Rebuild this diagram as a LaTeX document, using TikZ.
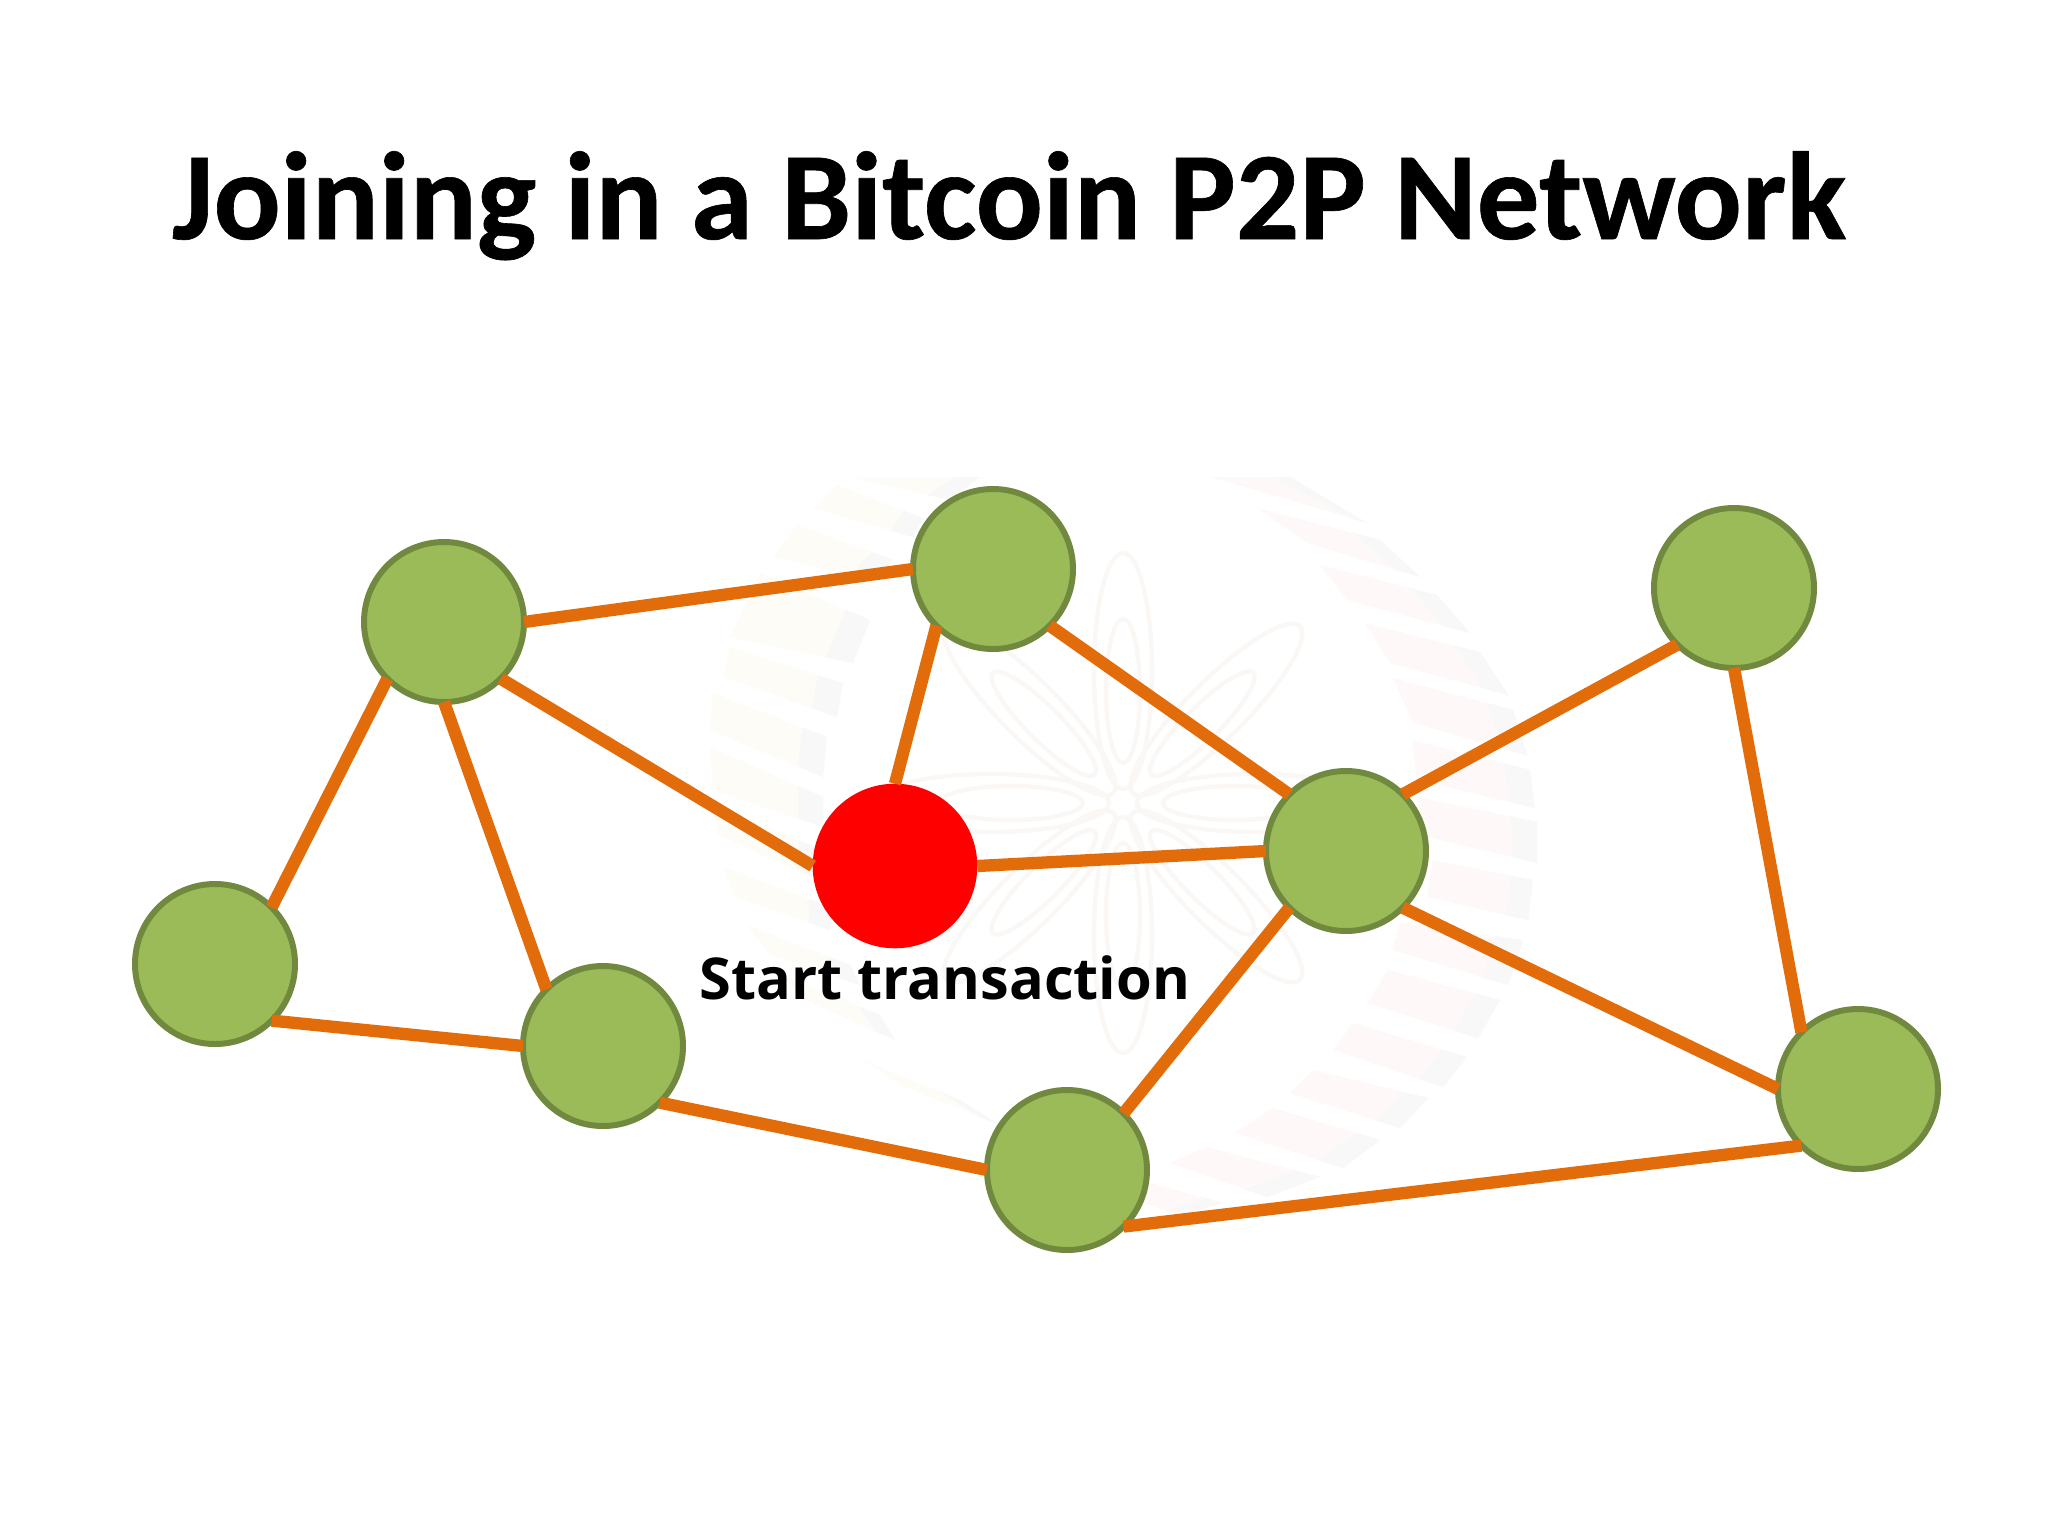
\documentclass[tikz,border=0pt]{standalone}
\usepackage{fontspec}
\setmainfont{Carlito}
\newfontfamily\titlefont{Carlito}[UprightFont=*,BoldFont=*-Bold,BoldFeatures={FakeBold=0.5}]
\newfontfamily\labelfont{Open Sans}
\usetikzlibrary{calc}
\definecolor{nodegreen}{HTML}{9BBB59}
\definecolor{nodeedge}{HTML}{71893F}
\definecolor{linkorange}{HTML}{E36C0A}
\definecolor{wmpink}{HTML}{FEF9F8}
\definecolor{wmcream}{HTML}{FEFCF7}
\definecolor{wmgrey}{HTML}{F8F8F8}
\definecolor{wmpetal}{HTML}{FAF7F5}
\tikzset{
  peer/.style={circle,draw=nodeedge,fill=nodegreen,line width=1.7pt,minimum size=45.5pt,inner sep=0pt,outer sep=0pt},
  origin/.style={circle,fill=red,draw=none,minimum size=46.8pt,inner sep=0pt,outer sep=0pt},
  link/.style={draw=linkorange,line width=3.5pt},
  petal/.style={draw=wmpetal,line width=1.2pt}
}
% inner-top, outer-top, outer-bottom, inner-bottom
\newcommand{\wmright}[4]{%
  \fill[wmpink] (#1)--(#2)--(#3)--(#4)--cycle;
  \fill[wmgrey] ($(#1)!.78!(#2)$)--(#2)--(#3)--($(#4)!.78!(#3)$)--cycle;}
\newcommand{\wmleft}[4]{%
  \fill[wmcream] (#1)--(#2)--(#3)--(#4)--cycle;
  \fill[wmgrey] ($(#1)!.78!(#2)$)--(#2)--(#3)--($(#4)!.78!(#3)$)--cycle;}
\begin{document}
\begin{tikzpicture}[x=0.01cm,y=-0.01cm]
\useasboundingbox (0,0) rectangle (2048,1536);
\fill[white] (0,0) rectangle (2048,1536);
% faint watermark
\wmright{1210,477}{1290,477}{1367,523}{1300,503}
\wmright{1257,508}{1380,540}{1420,577}{1307,543}
\wmright{1320,565}{1437,595}{1470,633}{1347,600}
\wmright{1365,623}{1480,652}{1508,695}{1390,663}
\wmright{1393,678}{1513,710}{1527,755}{1413,723}
\wmright{1412,740}{1530,770}{1535,808}{1417,780}
\wmright{1417,797}{1537,822}{1537,863}{1427,837}
\wmright{1433,860}{1533,880}{1528,920}{1427,897}
\wmright{1400,923}{1523,940}{1508,985}{1393,950}
\wmright{1388,970}{1500,1000}{1478,1038}{1367,1003}
\wmright{1353,1023}{1467,1057}{1443,1087}{1333,1050}
\wmright{1313,1070}{1428,1098}{1400,1128}{1290,1093}
\wmright{1273,1108}{1380,1140}{1343,1168}{1235,1133}
\wmright{1207,1147}{1320,1177}{1267,1197}{1170,1163}
\wmright{1150,1183}{1223,1203}{1180,1215}{1120,1195}
\wmleft{870,477}{980,477}{950,500}{850,477}
\wmleft{837,485}{923,518}{913,537}{813,508}
\wmleft{797,525}{893,560}{873,580}{773,557}
\wmleft{760,573}{870,620}{853,663}{730,637}
\wmleft{730,647}{843,683}{837,717}{723,677}
\wmleft{713,693}{827,737}{823,777}{710,730}
\wmleft{710,747}{823,797}{823,827}{713,790}
\wmleft{713,805}{823,850}{820,880}{718,835}
\wmleft{723,867}{833,908}{830,930}{735,897}
\wmleft{747,925}{850,965}{860,985}{770,955}
\wmleft{782,975}{880,1015}{895,1040}{805,1000}
\wmleft{863,1060}{960,1100}{1000,1125}{900,1085}
\foreach \a in {0,45,...,315}{
  \begin{scope}[shift={(1123,803)},rotate=\a]
    \draw[petal] (132,0) ellipse [x radius=118,y radius=29];
    \draw[petal] (112,0) ellipse [x radius=72,y radius=17];
  \end{scope}
}
\node (title) [anchor=base,font=\titlefont\fontsize{35.6}{38}\selectfont\bfseries] at (1009,239) {Joining in a Bitcoin P2P Network};
\node (n1) [peer] at (444,622) {};
\node (n2) [peer] at (993,569) {};
\node (n3) [peer] at (1734,588) {};
\node (n4) [peer] at (215,964) {};
\node (n5) [peer] at (603,1046) {};
\node (start) [origin] at (895,866) {};
\node (n6) [peer] at (1346,851) {};
\node (n7) [peer] at (1067,1170) {};
\node (n8) [peer] at (1858,1089) {};
\node (lab) [anchor=base,font=\labelfont\bfseries\fontsize{16.4}{18}\selectfont] at (945,999) {Start transaction};
\draw[link] (n1.east) -- (n2.west);
\draw[link] (n1.south east) -- (start.west);
\draw[link] (n1.south west) -- (n4.north east);
\draw[link] (n1.south) -- (n5.north west);
\draw[link] (n4.south east) -- (n5.west);
\draw[link] (n5.south east) -- (n7.west);
\draw[link] (n2.south west) -- (start.north);
\draw[link] (n2.south east) -- (n6.north west);
\draw[link] (start.east) -- (n6.west);
\draw[link] (n6.north east) -- (n3.south west);
\draw[link] (n6.south west) -- (n7.north east);
\draw[link] (n6.south east) -- (n8.west);
\draw[link] (n3.south) -- (n8.north west);
\draw[link] (n7.south east) -- (n8.south west);
\end{tikzpicture}
\end{document}
